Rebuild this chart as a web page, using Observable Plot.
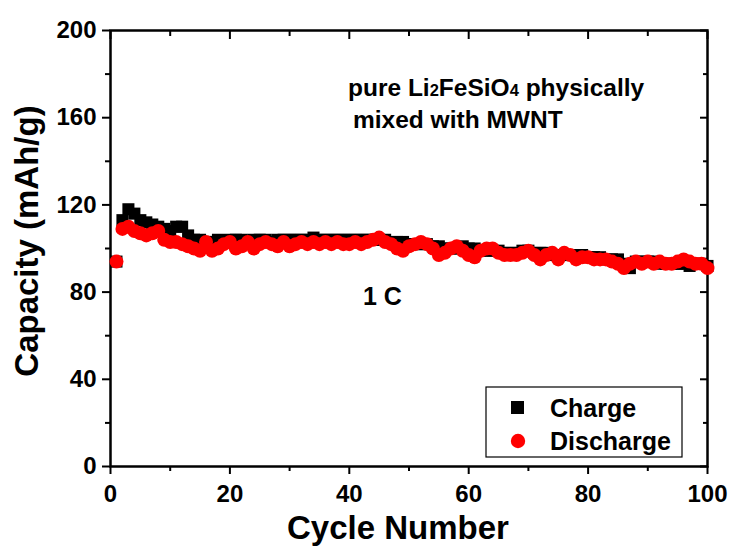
<!DOCTYPE html>
<html>
<head>
<meta charset="utf-8">
<script src="https://cdn.jsdelivr.net/npm/d3@7"></script>
<script src="https://cdn.jsdelivr.net/npm/@observablehq/plot@0.6"></script>
<style>
  html, body { margin: 0; padding: 0; background: white; }
  #chart { position: relative; width: 731px; height: 550px; }
</style>
</head>
<body>
<div id="chart"></div>
<script>
const cycles = d3.range(1, 101);
const chargeValues = [
  94,113,118,116,113,112,111,110,109,108,
  110,110,106,104,104,103,103,104,103,104,
  104,104,103,104,104,104,103,104,104,104,
  104,104,104,105,104,104,104,104,104,104,
  104,104,104,104,104,104,103,103,103,102,
  102,102,102,101,101,100,100,100,101,100,
  100,99,99,99,99,98,98,98,99,99,
  98,98,98,97,97,97,97,97,97,96,
  96,96,95,95,95,93,91,94,94,94,
  94,93,93,93,93,93,92,93,93,92
];
const dischargeValues = [
  94,109,110,108,107,106,107,108,104,103,
  103,102,101,100,99,103,99,100,102,103,
  100,101,103,100,102,103,102,101,103,101,
  102,103,102,103,102,103,102,103,102,102,
  103,102,103,104,105,103,102,100,99,101,
  102,103,102,100,97,98,100,101,99,97,
  96,99,100,100,98,97,97,97,98,99,
  97,95,97,98,95,98,97,95,96,96,
  95,95,95,94,93,91,93,94,93,94,
  93,94,93,93,94,95,94,93,93,91
];
const seriesNames = ["Charge", "Discharge"];
const xMajorTicks = [0, 20, 40, 60, 80, 100];
const xMinorTicks = [10, 30, 50, 70, 90];
const yMajorTicks = [0, 40, 80, 120, 160, 200];
const yMinorTicks = [20, 60, 100, 140, 180];

const charge = cycles.map((c, i) => ({cycle: c, value: chargeValues[i]}));
const discharge = cycles.map((c, i) => ({cycle: c, value: dischargeValues[i]}));

const font = "'Liberation Sans', Arial, Helvetica, sans-serif";
const blank = () => "";

const plot = Plot.plot({
  width: 731,
  height: 550,
  marginLeft: 110,
  marginRight: 24,
  marginTop: 30,
  marginBottom: 84,
  x: {domain: [0, 100]},
  y: {domain: [0, 200]},
  style: {fontFamily: font, fontWeight: "bold", background: "white", color: "black", overflow: "visible"},
  marks: [
    Plot.axisX({anchor: "bottom", ticks: xMajorTicks, tickSize: 8, tickPadding: 10, fontSize: 24, label: null, strokeWidth: 2}),
    Plot.axisX({anchor: "bottom", ticks: xMinorTicks, tickSize: 5, tickFormat: blank, label: null, strokeWidth: 2}),
    Plot.axisX({anchor: "top", ticks: xMajorTicks, tickSize: -8, tickFormat: blank, label: null, strokeWidth: 2}),
    Plot.axisX({anchor: "top", ticks: xMinorTicks, tickSize: -5, tickFormat: blank, label: null, strokeWidth: 2}),
    Plot.axisY({anchor: "left", ticks: yMajorTicks, tickSize: 8, tickPadding: 6, fontSize: 24, label: null, strokeWidth: 2}),
    Plot.axisY({anchor: "left", ticks: yMinorTicks, tickSize: 5, tickFormat: blank, label: null, strokeWidth: 2}),
    Plot.axisY({anchor: "right", ticks: yMajorTicks, tickSize: -8, tickFormat: blank, label: null, strokeWidth: 2}),
    Plot.axisY({anchor: "right", ticks: yMinorTicks, tickSize: -5, tickFormat: blank, label: null, strokeWidth: 2}),
    Plot.frame({stroke: "black", strokeWidth: 2.5}),
    Plot.dot(charge, {x: "cycle", y: "value", symbol: "square", fill: "black", r: 6.8}),
    Plot.dot(discharge, {x: "cycle", y: "value", symbol: "circle", fill: "#ff0000", r: 7})
  ]
});

document.getElementById("chart").appendChild(plot);

const svg = d3.select(plot);
const g = svg.append("g")
  .attr("font-family", font).attr("font-weight", "bold").attr("fill", "black")
  .attr("text-anchor", "start");

// axis titles
g.append("text")
  .attr("transform", "translate(38,241) rotate(-90)")
  .attr("text-anchor", "middle")
  .attr("font-size", 33)
  .text("Capacity (mAh/g)");
g.append("text")
  .attr("x", 398).attr("y", 539)
  .attr("text-anchor", "middle")
  .attr("font-size", 33)
  .text("Cycle Number");

// annotation
const t1 = g.append("text").attr("x", 348).attr("y", 96).attr("font-size", 24.5).attr("text-anchor", "start");
t1.append("tspan").text("pure Li");
t1.append("tspan").attr("font-size", 16.5).text("2");
t1.append("tspan").text("FeSiO");
t1.append("tspan").attr("font-size", 16.5).text("4");
t1.append("tspan").text(" physically");
g.append("text").attr("x", 353).attr("y", 128).attr("font-size", 24.5).attr("text-anchor", "start").text("mixed with MWNT");
g.append("text").attr("x", 363).attr("y", 305).attr("font-size", 25).attr("text-anchor", "start").text("1 C");

// legend
const lg = svg.append("g");
lg.append("rect").attr("x", 486).attr("y", 387).attr("width", 196).attr("height", 70)
  .attr("fill", "white").attr("stroke", "black").attr("stroke-width", 1.2);
lg.append("rect").attr("x", 511).attr("y", 401).attr("width", 13).attr("height", 13).attr("fill", "black");
lg.append("circle").attr("cx", 518).attr("cy", 441).attr("r", 7.2).attr("fill", "#ff0000");
lg.selectAll("text.leg").data(seriesNames).join("text")
  .attr("class", "leg")
  .attr("x", 550).attr("y", (d, i) => 417 + i * 33)
  .attr("text-anchor", "start")
  .attr("font-family", font).attr("font-weight", "bold").attr("font-size", 25)
  .attr("fill", "black")
  .text(d => d);
</script>
</body>
</html>
